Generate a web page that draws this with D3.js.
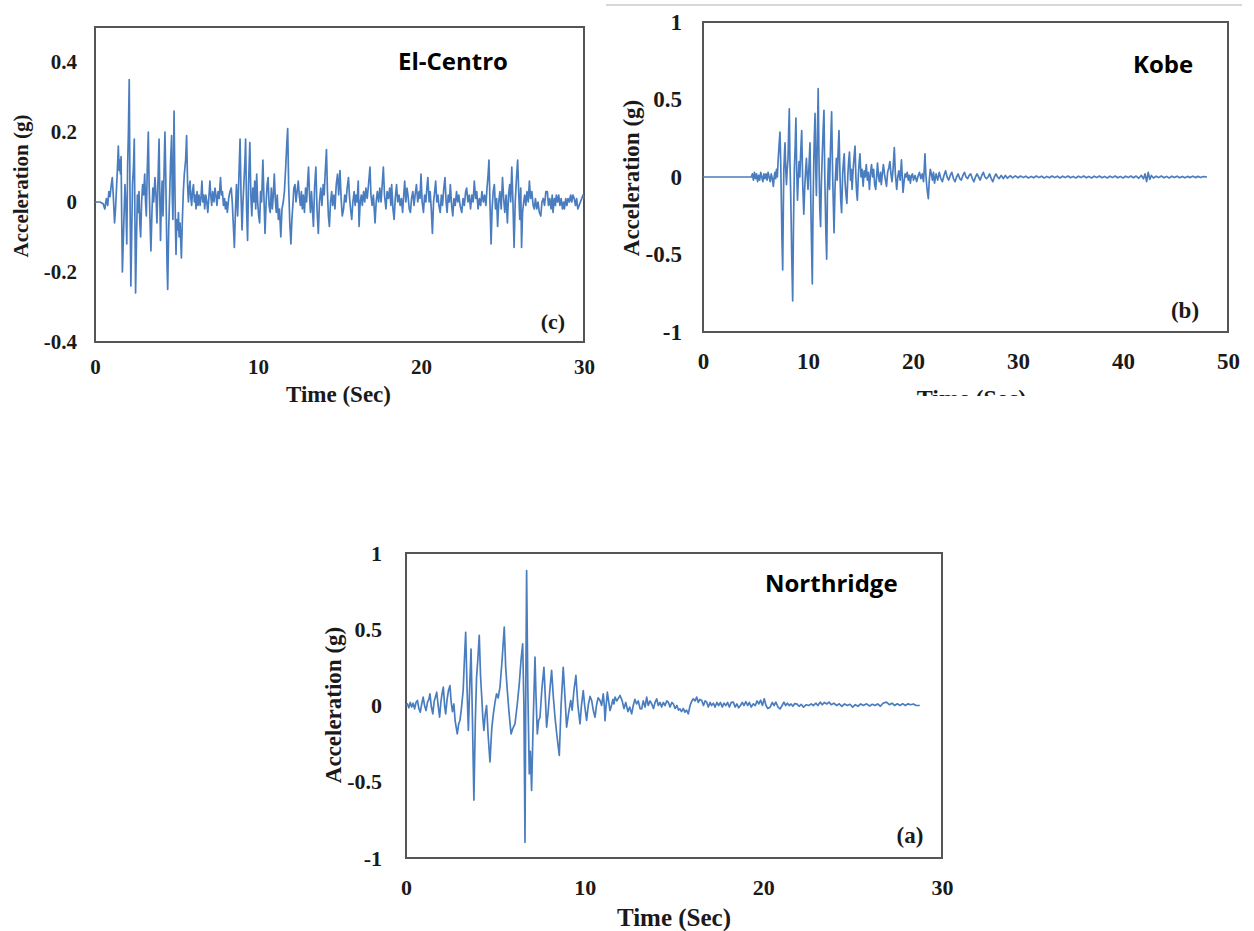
<!DOCTYPE html>
<html>
<head>
<meta charset="utf-8">
<script src="https://cdn.jsdelivr.net/npm/d3@7"></script>
<style>
  html, body { margin: 0; padding: 0; background: #ffffff; }
  svg { display: block; }
</style>
</head>
<body>
<svg id="chart" width="1254" height="931"></svg>
<script>
// Ground-motion acceleration records: [time (s), acceleration (g)]
const elCentroRecord = [
  [0,0],[0.3,0],[0.5,-0.005],[0.6,-0.02],[0.7,0.01],[0.78,-0.01],[0.85,0.03],[0.92,0.015],[1.0,0.05],[1.06,0.07],
  [1.12,0.02],[1.2,-0.06],[1.26,-0.02],[1.32,0.04],[1.38,0.1],[1.43,0.16],[1.48,0.09],[1.52,0.12],[1.56,0.08],[1.6,0.13],
  [1.64,-0.05],[1.68,-0.2],[1.73,-0.12],[1.78,-0.04],[1.84,0.05],[1.9,-0.02],[1.95,-0.12],[2.0,0.1],[2.05,0.2],[2.1,0.35],
  [2.15,0.0],[2.2,-0.24],[2.25,-0.1],[2.3,0.05],[2.36,0.1],[2.41,0.18],[2.45,-0.05],[2.49,-0.26],[2.54,-0.12],[2.6,0.02],
  [2.65,-0.03],[2.7,0.03],[2.75,-0.06],[2.8,-0.1],[2.86,0.0],[2.92,0.05],[2.98,0.02],[3.05,0.08],[3.1,0.0],[3.15,-0.04],
  [3.2,0.08],[3.27,0.2],[3.32,0.05],[3.38,-0.06],[3.43,-0.14],[3.5,-0.02],[3.55,0.04],[3.6,0.0],[3.68,0.07],[3.74,0.02],
  [3.8,-0.06],[3.86,0.05],[3.93,0.18],[3.98,0.0],[4.02,-0.11],[4.07,0.0],[4.12,0.06],[4.17,-0.04],[4.22,0.05],[4.29,0.2],
  [4.34,0.08],[4.38,-0.05],[4.42,-0.18],[4.46,-0.25],[4.52,-0.08],[4.58,0.02],[4.64,0.12],[4.7,0.19],[4.74,0.02],[4.78,-0.05],
  [4.82,0.12],[4.85,0.26],[4.9,0.05],[4.94,-0.08],[4.97,-0.15],[5.02,-0.05],[5.08,-0.08],[5.12,-0.03],[5.16,-0.1],[5.22,-0.06],
  [5.3,-0.16],[5.36,-0.05],[5.42,0.03],[5.48,0.08],[5.56,0.12],[5.62,0.19],[5.68,0.05],[5.73,0.0],[5.78,0.04],[5.83,0.06],
  [5.88,0.01],[5.93,-0.01],[5.98,0.03],[6.04,0.05],[6.1,0.0],[6.15,0.02],[6.2,-0.02],[6.26,0.03],[6.32,-0.01],[6.38,0.02],
  [6.45,-0.01],[6.5,0.01],[6.56,0.06],[6.62,0.0],[6.68,0.02],[6.73,-0.02],[6.8,0.02],[6.86,0.0],[6.92,-0.03],[6.98,0.01],
  [7.05,0.06],[7.1,0.02],[7.16,-0.01],[7.22,0.03],[7.3,0.0],[7.36,0.04],[7.42,0.02],[7.48,-0.01],[7.55,0.03],[7.62,0.01],
  [7.7,0.07],[7.76,0.02],[7.82,0.03],[7.88,-0.01],[7.95,0.01],[8.0,-0.02],[8.06,0.0],[8.12,-0.03],[8.2,0.01],[8.28,0.03],
  [8.36,0.04],[8.42,0.0],[8.48,-0.06],[8.55,-0.13],[8.62,-0.02],[8.68,0.05],[8.75,-0.04],[8.82,0.06],[8.9,0.18],[8.96,0.02],
  [9.02,-0.08],[9.08,0.0],[9.14,0.06],[9.2,0.12],[9.24,0.18],[9.3,-0.02],[9.36,-0.11],[9.42,0.05],[9.5,0.17],[9.56,0.02],
  [9.62,-0.04],[9.68,0.04],[9.74,0.0],[9.8,0.06],[9.86,-0.02],[9.92,0.08],[9.98,0.0],[10.04,-0.04],[10.1,-0.06],[10.16,0.03],
  [10.22,0.0],[10.3,0.12],[10.36,0.02],[10.43,-0.09],[10.5,0.0],[10.56,0.05],[10.62,0.07],[10.68,-0.01],[10.75,-0.03],[10.82,0.04],
  [10.88,-0.02],[10.94,0.02],[11.0,0.08],[11.06,0.01],[11.12,-0.03],[11.18,0.02],[11.25,-0.05],[11.32,-0.02],[11.4,-0.1],[11.47,-0.02],
  [11.55,0.0],[11.62,0.03],[11.7,0.1],[11.76,0.16],[11.82,0.21],[11.88,0.05],[11.95,-0.06],[12.02,-0.12],[12.08,-0.05],[12.15,0.0],
  [12.2,0.04],[12.27,0.05],[12.33,0.0],[12.4,0.03],[12.47,0.06],[12.53,0.02],[12.6,-0.01],[12.66,0.03],[12.72,-0.02],[12.78,0.02],
  [12.85,-0.03],[12.92,0.04],[12.98,0.0],[13.05,0.06],[13.1,0.1],[13.16,0.02],[13.22,-0.03],[13.28,0.03],[13.34,-0.02],[13.4,-0.07],
  [13.47,0.04],[13.55,0.1],[13.62,-0.02],[13.7,-0.09],[13.77,0.0],[13.85,0.04],[13.92,-0.01],[14.0,0.05],[14.06,0.02],[14.12,0.08],
  [14.2,0.15],[14.26,0.03],[14.32,-0.04],[14.38,-0.07],[14.45,0.0],[14.52,0.03],[14.58,-0.01],[14.65,0.02],[14.72,-0.02],[14.8,0.05],
  [14.88,0.08],[14.95,0.02],[15.03,0.09],[15.1,0.01],[15.17,-0.04],[15.25,-0.02],[15.32,0.02],[15.4,0.0],[15.47,0.04],[15.55,0.07],
  [15.62,0.01],[15.68,-0.02],[15.75,-0.05],[15.82,0.0],[15.9,0.03],[15.96,-0.01],[16.02,0.02],[16.08,0.0],[16.15,0.06],[16.2,-0.07],
  [16.27,0.0],[16.34,0.02],[16.4,-0.01],[16.48,0.03],[16.55,0.0],[16.62,0.04],[16.7,0.01],[16.78,0.05],[16.87,0.1],[16.93,0.02],
  [17.0,-0.01],[17.08,0.02],[17.18,-0.06],[17.25,0.0],[17.32,0.03],[17.4,0.0],[17.47,0.04],[17.55,0.0],[17.62,0.05],[17.69,0.1],
  [17.76,0.02],[17.85,-0.02],[17.92,0.03],[18.0,0.01],[18.08,0.04],[18.15,-0.01],[18.2,0.05],[18.28,-0.02],[18.35,-0.05],[18.42,0.01],
  [18.5,0.05],[18.57,0.0],[18.65,0.02],[18.72,-0.01],[18.8,0.01],[18.87,-0.03],[18.94,0.02],[19.0,0.06],[19.07,0.0],[19.14,0.04],
  [19.2,0.02],[19.28,-0.02],[19.35,-0.03],[19.42,0.01],[19.5,0.03],[19.57,-0.01],[19.64,0.02],[19.72,0.05],[19.8,0.0],[19.88,0.03],
  [19.94,0.01],[20.0,0.08],[20.07,0.0],[20.15,-0.03],[20.22,0.02],[20.3,0.0],[20.36,0.04],[20.42,0.07],[20.5,0.0],[20.56,0.03],
  [20.63,-0.02],[20.7,-0.09],[20.77,0.0],[20.84,0.03],[20.9,0.06],[20.97,0.0],[21.04,0.02],[21.1,-0.01],[21.18,-0.03],[21.25,0.02],
  [21.32,-0.01],[21.4,0.04],[21.47,0.07],[21.54,0.0],[21.6,-0.03],[21.67,0.02],[21.74,0.0],[21.8,0.05],[21.88,-0.01],[21.95,-0.04],
  [22.02,0.01],[22.1,-0.01],[22.18,0.03],[22.25,0.0],[22.32,0.02],[22.4,-0.01],[22.5,-0.03],[22.58,0.01],[22.66,-0.01],[22.74,0.03],
  [22.8,0.04],[22.88,0.0],[22.96,0.02],[23.04,-0.02],[23.12,0.02],[23.2,0.0],[23.27,0.06],[23.35,0.01],[23.42,0.03],[23.5,-0.02],
  [23.58,0.01],[23.66,-0.01],[23.74,0.03],[23.82,0.0],[23.9,0.02],[23.98,-0.01],[24.05,0.04],[24.12,0.08],[24.17,0.12],[24.23,0.0],
  [24.3,-0.12],[24.36,-0.02],[24.43,0.03],[24.5,0.05],[24.57,-0.02],[24.64,0.01],[24.7,-0.07],[24.77,0.0],[24.84,0.03],[24.92,-0.02],
  [25.0,0.07],[25.07,0.01],[25.14,-0.03],[25.22,0.02],[25.3,-0.06],[25.37,0.02],[25.44,0.05],[25.5,0.0],[25.57,0.1],[25.64,0.0],
  [25.71,-0.13],[25.78,0.0],[25.86,0.07],[25.93,0.12],[26.0,0.02],[26.06,-0.05],[26.12,0.04],[26.17,-0.13],[26.23,-0.03],[26.3,0.0],
  [26.36,0.02],[26.43,-0.01],[26.5,0.03],[26.58,0.0],[26.65,0.06],[26.72,0.01],[26.8,0.03],[26.88,-0.01],[26.95,-0.02],[27.02,0.01],
  [27.1,-0.02],[27.18,0.0],[27.26,-0.03],[27.35,-0.04],[27.42,0.0],[27.5,0.01],[27.58,-0.01],[27.66,0.03],[27.75,0.03],[27.82,-0.01],
  [27.9,0.01],[27.98,-0.02],[28.05,0.02],[28.1,-0.03],[28.18,0.01],[28.25,-0.01],[28.3,0.02],[28.38,0.0],[28.45,0.02],[28.52,-0.01],
  [28.6,0.01],[28.68,-0.02],[28.75,0.0],[28.8,-0.02],[28.88,0.01],[28.95,-0.01],[29.02,0.01],[29.1,0.0],[29.18,0.02],[29.25,0.0],
  [29.32,0.02],[29.4,0.01],[29.48,-0.01],[29.55,0.01],[29.62,-0.02],[29.7,-0.01],[29.78,0.0],[29.86,0.01],[29.94,0.02],[30,0.01]
];

const kobeRecord = [
  [0,0],[4.6,0],[4.7,0.02],[4.8,-0.02],[4.9,0.03],[5.0,-0.01],[5.1,0.02],[5.2,-0.03],[5.3,0.01],[5.4,-0.02],
  [5.5,0.03],[5.6,0.0],[5.7,-0.03],[5.8,0.02],[5.9,-0.01],[6.0,0.02],[6.1,-0.02],[6.2,0.03],[6.3,0.0],[6.4,-0.03],
  [6.5,0.02],[6.6,-0.01],[6.7,-0.06],[6.78,0.0],[6.85,0.03],[6.92,-0.01],[7.0,0.05],[7.08,0.0],[7.15,0.1],[7.24,0.2],
  [7.33,0.29],[7.4,0.1],[7.45,-0.1],[7.52,-0.4],[7.59,-0.6],[7.65,-0.2],[7.7,0.05],[7.76,0.15],[7.81,0.22],[7.88,0.05],
  [7.95,-0.05],[8.02,0.05],[8.1,0.12],[8.16,0.3],[8.22,0.44],[8.28,0.1],[8.35,-0.1],[8.45,-0.5],[8.54,-0.8],[8.62,-0.3],
  [8.7,0.05],[8.78,0.2],[8.85,0.38],[8.92,0.05],[9.0,-0.15],[9.07,-0.02],[9.15,0.1],[9.22,0.0],[9.3,0.15],[9.4,0.3],
  [9.5,-0.05],[9.6,-0.24],[9.7,-0.05],[9.78,0.05],[9.85,0.12],[9.93,0.0],[10.0,-0.08],[10.08,0.05],[10.19,0.22],[10.3,-0.3],
  [10.41,-0.69],[10.48,-0.2],[10.55,0.1],[10.6,0.25],[10.67,0.41],[10.74,0.05],[10.8,-0.12],[10.88,0.2],[10.97,0.57],[11.05,0.1],
  [11.12,-0.2],[11.2,-0.32],[11.27,-0.05],[11.35,0.12],[11.44,0.3],[11.52,0.43],[11.6,0.0],[11.7,-0.35],[11.78,-0.53],[11.85,-0.1],
  [11.95,0.12],[12.0,0.0],[12.05,-0.08],[12.15,0.2],[12.25,0.42],[12.35,0.0],[12.48,-0.36],[12.58,-0.05],[12.7,0.12],[12.78,-0.02],
  [12.86,0.15],[12.95,0.3],[13.05,0.0],[13.12,-0.15],[13.2,-0.23],[13.3,0.02],[13.38,0.1],[13.45,0.15],[13.52,-0.02],[13.6,-0.1],
  [13.7,-0.17],[13.8,0.02],[13.87,0.1],[13.95,0.16],[14.05,-0.02],[14.12,0.05],[14.2,-0.08],[14.3,0.05],[14.38,0.12],[14.48,0.2],
  [14.56,0.0],[14.63,-0.1],[14.7,-0.15],[14.8,0.02],[14.88,0.1],[14.95,0.15],[15.05,0.0],[15.15,0.05],[15.25,-0.06],[15.35,0.04],
  [15.45,0.0],[15.55,0.08],[15.65,-0.02],[15.75,0.03],[15.85,-0.08],[15.95,0.02],[16.05,0.08],[16.15,0.0],[16.25,0.05],[16.35,-0.05],
  [16.45,-0.08],[16.55,0.02],[16.62,0.09],[16.72,0.0],[16.8,-0.03],[16.9,0.03],[16.98,-0.05],[17.08,0.02],[17.18,0.08],[17.28,0.02],
  [17.38,-0.02],[17.48,-0.06],[17.58,0.03],[17.7,0.06],[17.8,0.1],[17.9,0.02],[18.0,-0.03],[18.1,0.05],[18.22,0.19],[18.32,0.02],
  [18.45,-0.08],[18.55,0.0],[18.65,0.04],[18.78,-0.02],[18.9,0.11],[18.98,0.0],[19.05,-0.1],[19.15,-0.03],[19.25,0.02],[19.35,0.0],
  [19.45,0.03],[19.55,-0.02],[19.65,0.01],[19.75,-0.04],[19.85,0.01],[19.95,0.02],[20.05,-0.02],[20.2,0.01],[20.35,-0.03],[20.5,0.01],
  [20.62,0.03],[20.75,-0.01],[20.88,0.02],[21.0,-0.03],[21.07,0.05],[21.14,0.15],[21.22,0.02],[21.3,-0.05],[21.38,-0.1],[21.46,-0.14],
  [21.55,-0.02],[21.65,0.05],[21.75,0.02],[21.85,-0.02],[21.95,0.03],[22.05,-0.04],[22.2,0.02],[22.35,-0.02],[22.5,0.03],[22.65,-0.01],
  [22.8,-0.03],[22.95,0.01],[23.1,0.04],[23.25,0.0],[23.4,-0.02],[23.55,0.01],[23.7,0.03],[23.85,-0.01],[24.0,-0.03],[24.15,0.0],
  [24.3,0.02],[24.45,-0.01],[24.6,-0.02],[24.75,0.01],[24.9,0.03],[25.05,0.0],[25.2,-0.01],[25.35,0.01],[25.5,0.02],[25.65,-0.01],
  [25.8,-0.03],[25.95,0.0],[26.1,0.02],[26.25,0.0],[26.4,-0.02],[26.55,0.01],[26.7,0.03],[26.85,0.0],[27.0,-0.01],[27.15,0.0],
  [27.3,0.02],[27.45,-0.01],[27.6,-0.03],[27.75,0.0],[27.9,0.02],[28.05,0.0],[28.2,-0.01],[28.4,0.01],[28.6,-0.01],[28.8,0.01],
  [29.0,-0.008],[29.25,0.008],[29.5,-0.006],[29.75,0.007],[30.0,-0.005],[30.25,0.006],[30.5,-0.004],[30.75,0.005],[31.0,-0.006],[31.25,0.004],
  [31.5,-0.005],[31.75,0.006],[32.0,-0.004],[32.25,0.005],[32.5,-0.006],[32.75,0.004],[33.0,-0.005],[33.25,0.006],[33.5,-0.004],[33.75,0.005],
  [34.0,-0.006],[34.25,0.005],[34.5,-0.004],[34.75,0.006],[35.0,-0.005],[35.25,0.004],[35.5,-0.006],[35.75,0.005],[36.0,-0.004],[36.25,0.006],
  [36.5,-0.005],[36.75,0.004],[37.0,-0.006],[37.25,0.005],[37.5,-0.004],[37.75,0.006],[38.0,-0.005],[38.25,0.004],[38.5,-0.006],[38.75,0.005],
  [39.0,-0.004],[39.25,0.006],[39.5,-0.005],[39.75,0.004],[40.0,-0.006],[40.25,0.005],[40.5,-0.004],[40.75,0.006],[41.0,-0.005],[41.25,0.006],
  [41.5,-0.008],[41.75,0.01],[41.95,-0.012],[42.1,0.02],[42.25,-0.03],[42.4,0.03],[42.55,-0.015],[42.7,0.01],[42.9,-0.006],[43.15,0.005],
  [43.4,-0.004],[43.65,0.006],[43.9,-0.005],[44.15,0.004],[44.4,-0.006],[44.65,0.005],[44.9,-0.004],[45.15,0.005],[45.4,-0.005],[45.65,0.004],
  [45.9,-0.005],[46.15,0.004],[46.4,-0.004],[46.65,0.005],[46.9,-0.004],[47.15,0.004],[47.4,-0.003],[47.65,0.003],[48.0,0]
];

const northridgeRecord = [
  [0,0],[0.08,0.01],[0.16,-0.015],[0.24,0.02],[0.32,-0.01],[0.4,0.015],[0.48,-0.022],[0.56,0.02],[0.64,0.033],[0.72,-0.02],
  [0.8,-0.044],[0.88,0.01],[0.96,0.055],[1.04,0.0],[1.12,-0.033],[1.2,0.02],[1.28,0.04],[1.34,0.077],[1.42,-0.01],[1.5,-0.055],
  [1.58,0.03],[1.66,0.06],[1.72,0.087],[1.8,0.0],[1.88,-0.077],[1.95,0.02],[2.02,0.08],[2.09,0.12],[2.16,0.0],[2.22,-0.055],
  [2.3,0.04],[2.38,0.1],[2.46,0.13],[2.53,0.02],[2.6,-0.04],[2.68,0.01],[2.75,-0.1],[2.87,-0.186],[2.95,-0.12],[3.02,-0.098],
  [3.1,-0.02],[3.2,0.1],[3.27,0.3],[3.34,0.48],[3.42,0.1],[3.49,-0.164],[3.56,0.1],[3.64,0.37],[3.72,-0.1],[3.8,-0.62],
  [3.88,-0.1],[3.95,0.186],[4.02,0.3],[4.1,0.46],[4.17,0.2],[4.25,0.033],[4.3,-0.08],[4.36,-0.164],[4.43,-0.06],[4.51,0.0],
  [4.6,-0.2],[4.7,-0.37],[4.8,-0.15],[4.89,-0.055],[4.98,0.02],[5.07,0.077],[5.16,0.05],[5.26,0.12],[5.38,0.3],[5.5,0.514],
  [5.58,0.25],[5.67,0.098],[5.77,-0.05],[5.88,-0.186],[5.98,-0.15],[6.1,-0.12],[6.22,0.0],[6.34,0.142],[6.44,0.3],[6.53,0.404],
  [6.6,0.0],[6.66,-0.896],[6.7,0.0],[6.75,0.885],[6.82,0.1],[6.9,-0.448],[6.96,-0.3],[7.03,-0.557],[7.12,-0.1],[7.22,0.317],
  [7.28,0.05],[7.35,-0.186],[7.42,-0.1],[7.5,-0.077],[7.6,0.1],[7.72,0.25],[7.8,0.05],[7.87,-0.142],[7.95,-0.05],[8.05,0.1],
  [8.15,0.23],[8.25,0.05],[8.34,-0.077],[8.45,-0.2],[8.58,-0.328],[8.68,0.0],[8.8,0.25],[8.9,0.05],[8.99,-0.142],[9.1,-0.05],
  [9.22,0.033],[9.3,-0.03],[9.4,0.1],[9.51,0.197],[9.62,0.0],[9.74,-0.12],[9.82,0.0],[9.92,0.098],[10.0,0.0],[10.11,-0.098],
  [10.2,0.0],[10.3,0.06],[10.39,0.033],[10.48,-0.03],[10.58,-0.077],[10.66,0.0],[10.75,0.05],[10.86,0.033],[10.95,0.0],[11.04,0.077],
  [11.1,0.0],[11.14,-0.1],[11.2,0.0],[11.27,0.088],[11.35,0.02],[11.42,-0.033],[11.5,0.0],[11.58,0.04],[11.64,0.01],[11.7,0.055],
  [11.8,0.03],[11.9,0.05],[11.98,0.066],[12.1,0.03],[12.2,-0.02],[12.3,0.02],[12.42,-0.04],[12.52,-0.01],[12.63,-0.055],[12.72,0.0],
  [12.81,0.04],[12.91,0.01],[13.0,0.03],[13.1,-0.02],[13.19,-0.022],[13.28,0.03],[13.38,-0.01],[13.47,0.055],[13.56,0.0],[13.66,0.03],
  [13.75,0.011],[13.85,-0.02],[13.94,0.02],[14.03,0.044],[14.12,0.0],[14.22,0.02],[14.31,-0.01],[14.4,0.02],[14.5,0.0],[14.6,0.03],
  [14.68,0.022],[14.78,-0.01],[14.88,0.02],[14.96,0.011],[15.06,-0.02],[15.16,0.0],[15.25,-0.03],[15.33,-0.022],[15.42,-0.04],[15.52,-0.02],
  [15.61,-0.044],[15.7,-0.03],[15.8,-0.055],[15.9,0.0],[16.0,0.03],[16.08,0.044],[16.18,0.03],[16.27,0.055],[16.36,0.02],[16.45,0.04],
  [16.55,0.033],[16.65,0.0],[16.74,0.03],[16.83,0.022],[16.92,-0.01],[17.02,0.02],[17.1,0.0],[17.2,0.015],[17.3,-0.01],[17.4,0.02],
  [17.5,0.0],[17.6,0.02],[17.7,-0.01],[17.8,0.015],[17.9,0.0],[18.0,0.02],[18.1,-0.01],[18.2,0.02],[18.32,0.022],[18.42,-0.01],
  [18.52,0.01],[18.62,-0.015],[18.72,0.0],[18.82,0.02],[18.92,0.0],[19.02,0.025],[19.12,0.0],[19.22,0.02],[19.32,-0.01],[19.44,0.011],
  [19.55,0.0],[19.65,0.03],[19.75,0.01],[19.85,0.035],[19.95,0.0],[20.05,0.044],[20.15,0.0],[20.25,-0.02],[20.38,-0.011],[20.5,0.02],
  [20.6,0.0],[20.7,0.022],[20.82,-0.01],[20.94,-0.022],[21.05,0.0],[21.15,0.022],[21.25,0.0],[21.35,0.015],[21.45,0.0],[21.55,0.01],
  [21.65,-0.005],[21.75,0.012],[21.87,0.011],[22.0,-0.005],[22.12,0.008],[22.25,-0.011],[22.4,0.005],[22.55,0.0],[22.68,0.011],[22.8,0.0],
  [22.95,0.015],[23.05,0.0],[23.18,0.022],[23.3,0.005],[23.42,0.02],[23.55,0.01],[23.68,0.022],[23.8,0.005],[23.95,0.015],[24.1,0.0],
  [24.25,0.011],[24.4,-0.005],[24.55,0.01],[24.7,0.0],[24.85,0.008],[25.0,-0.011],[25.15,0.005],[25.3,-0.005],[25.45,0.01],[25.6,0.0],
  [25.78,0.011],[25.95,-0.003],[26.1,0.008],[26.25,0.0],[26.4,0.01],[26.55,-0.005],[26.7,0.015],[26.89,0.022],[27.05,0.005],[27.2,0.015],
  [27.35,0.0],[27.5,0.011],[27.65,0.0],[27.8,0.012],[27.95,0.0],[28.1,0.011],[28.25,0.005],[28.4,0.01],[28.55,0.0],[28.76,0.0]
];

// Axis ticks
const elCentroXTicks = [0, 10, 20, 30];
const elCentroYTicks = [-0.4, -0.2, 0, 0.2, 0.4];
const kobeXTicks = [0, 10, 20, 30, 40, 50];
const kobeYTicks = [-1, -0.5, 0, 0.5, 1];
const northridgeXTicks = [0, 10, 20, 30];
const northridgeYTicks = [-1, -0.5, 0, 0.5, 1];

// Panel names and tags
const panelNames = ["El-Centro", "Kobe", "Northridge"];
const panelTags = ["(c)", "(b)", "(a)"];
const xTitle = "Time (Sec)";
const yTitle = "Acceleration (g)";

const svg = d3.select("#chart");
svg.append("rect").attr("width", 1254).attr("height", 931).attr("fill", "#ffffff");

const LINE_COLOR = "#4a7dbf";
const SERIF = "'Liberation Serif', 'Times New Roman', serif";
const SANS = "'Open Sans', 'Noto Sans', sans-serif";

function drawPanel(cfg) {
  const g = svg.append("g");
  if (cfg.clip) {
    const id = "clip-" + cfg.key;
    svg.append("defs").append("clipPath").attr("id", id)
      .append("rect").attr("x", cfg.clip.x).attr("y", cfg.clip.y)
      .attr("width", cfg.clip.w).attr("height", cfg.clip.h);
    g.attr("clip-path", `url(#${id})`);
  }

  const x = d3.scaleLinear().domain(cfg.xDomain).range([cfg.left, cfg.right]);
  const y = d3.scaleLinear().domain(cfg.yDomain).range([cfg.bottom, cfg.top]);

  // frame
  g.append("rect")
    .attr("x", cfg.left).attr("y", cfg.top)
    .attr("width", cfg.right - cfg.left).attr("height", cfg.bottom - cfg.top)
    .attr("fill", "none").attr("stroke", "#555").attr("stroke-width", 2);

  // record trace
  const line = d3.line().x(d => x(d[0])).y(d => y(d[1]));
  g.append("path").datum(cfg.data)
    .attr("d", line)
    .attr("fill", "none")
    .attr("stroke", LINE_COLOR)
    .attr("stroke-width", 1.7)
    .attr("stroke-linejoin", "round");

  // axes (labels only)
  const yAxis = d3.axisLeft(y).tickValues(cfg.yTicks).tickSize(0)
    .tickPadding(cfg.yPad).tickFormat(d => String(d));
  const xAxis = d3.axisBottom(x).tickValues(cfg.xTicks).tickSize(0)
    .tickPadding(cfg.xPad).tickFormat(d => String(d));

  const ya = g.append("g").attr("transform", `translate(${cfg.left},0)`).call(yAxis);
  const xa = g.append("g").attr("transform", `translate(0,${cfg.bottom})`).call(xAxis);
  [ya, xa].forEach(a => {
    a.select(".domain").remove();
    a.selectAll("text")
      .attr("font-family", SERIF).attr("font-weight", "bold")
      .attr("font-size", cfg.tickSize).attr("fill", "#1a1a1a");
  });

  // axis titles
  g.append("text")
    .attr("x", (cfg.left + cfg.right) / 2 + cfg.xTitleDx).attr("y", cfg.xTitleY)
    .attr("text-anchor", "middle")
    .attr("font-family", SERIF).attr("font-weight", "bold")
    .attr("font-size", cfg.titleSize).attr("fill", "#1a1a1a")
    .text(xTitle);

  g.append("text")
    .attr("transform", `translate(${cfg.yTitleX},${cfg.yTitleY}) rotate(-90)`)
    .attr("text-anchor", "middle")
    .attr("font-family", SERIF).attr("font-weight", "bold")
    .attr("font-size", cfg.yTitleSize).attr("fill", "#1a1a1a")
    .text(yTitle);

  // record name
  g.append("text")
    .attr("x", cfg.nameX).attr("y", cfg.nameY)
    .attr("font-family", SANS).attr("font-weight", 700)
    .attr("font-size", 24).attr("fill", "#000")
    .text(cfg.name);

  // panel tag
  g.append("text")
    .attr("x", cfg.tagX).attr("y", cfg.tagY)
    .attr("text-anchor", "middle")
    .attr("font-family", SERIF).attr("font-weight", "bold")
    .attr("font-size", cfg.tagSize).attr("fill", "#1a1a1a")
    .text(cfg.tag);
}

// El-Centro
drawPanel({
  key: "c", data: elCentroRecord,
  left: 95, right: 584, top: 27, bottom: 342,
  xDomain: [0, 30], yDomain: [-0.4, 0.5],
  xTicks: elCentroXTicks, yTicks: elCentroYTicks,
  yPad: 18, xPad: 17, tickSize: 21,
  titleSize: 23, xTitleY: 402, xTitleDx: -1,
  yTitleX: 28, yTitleY: 186, yTitleSize: 21,
  name: panelNames[0], nameX: 398, nameY: 70,
  tag: panelTags[0], tagX: 553, tagY: 329, tagSize: 22
});

// Kobe (its picture is cut off just below the axis numbers)
svg.append("line")
  .attr("x1", 606).attr("x2", 1242).attr("y1", 5).attr("y2", 5)
  .attr("stroke", "#d8d8d8").attr("stroke-width", 2);

drawPanel({
  key: "b", data: kobeRecord,
  left: 703, right: 1228, top: 22, bottom: 332,
  xDomain: [0, 50], yDomain: [-1, 1],
  xTicks: kobeXTicks, yTicks: kobeYTicks,
  yPad: 21, xPad: 21, tickSize: 23,
  titleSize: 24, xTitleY: 406, xTitleDx: 6,
  yTitleX: 639, yTitleY: 178, yTitleSize: 23,
  name: panelNames[1], nameX: 1133, nameY: 73,
  tag: panelTags[1], tagX: 1185, tagY: 318, tagSize: 23,
  clip: { x: 600, y: 0, w: 654, h: 396 }
});

// Northridge
drawPanel({
  key: "a", data: northridgeRecord,
  left: 406, right: 942, top: 553, bottom: 858,
  xDomain: [0, 30], yDomain: [-1, 1],
  xTicks: northridgeXTicks, yTicks: northridgeYTicks,
  yPad: 24, xPad: 21, tickSize: 22,
  titleSize: 25, xTitleY: 926, xTitleDx: 0,
  yTitleX: 341, yTitleY: 705, yTitleSize: 23,
  name: panelNames[2], nameX: 765, nameY: 592,
  tag: panelTags[2], tagX: 910, tagY: 843, tagSize: 23
});
</script>
</body>
</html>
